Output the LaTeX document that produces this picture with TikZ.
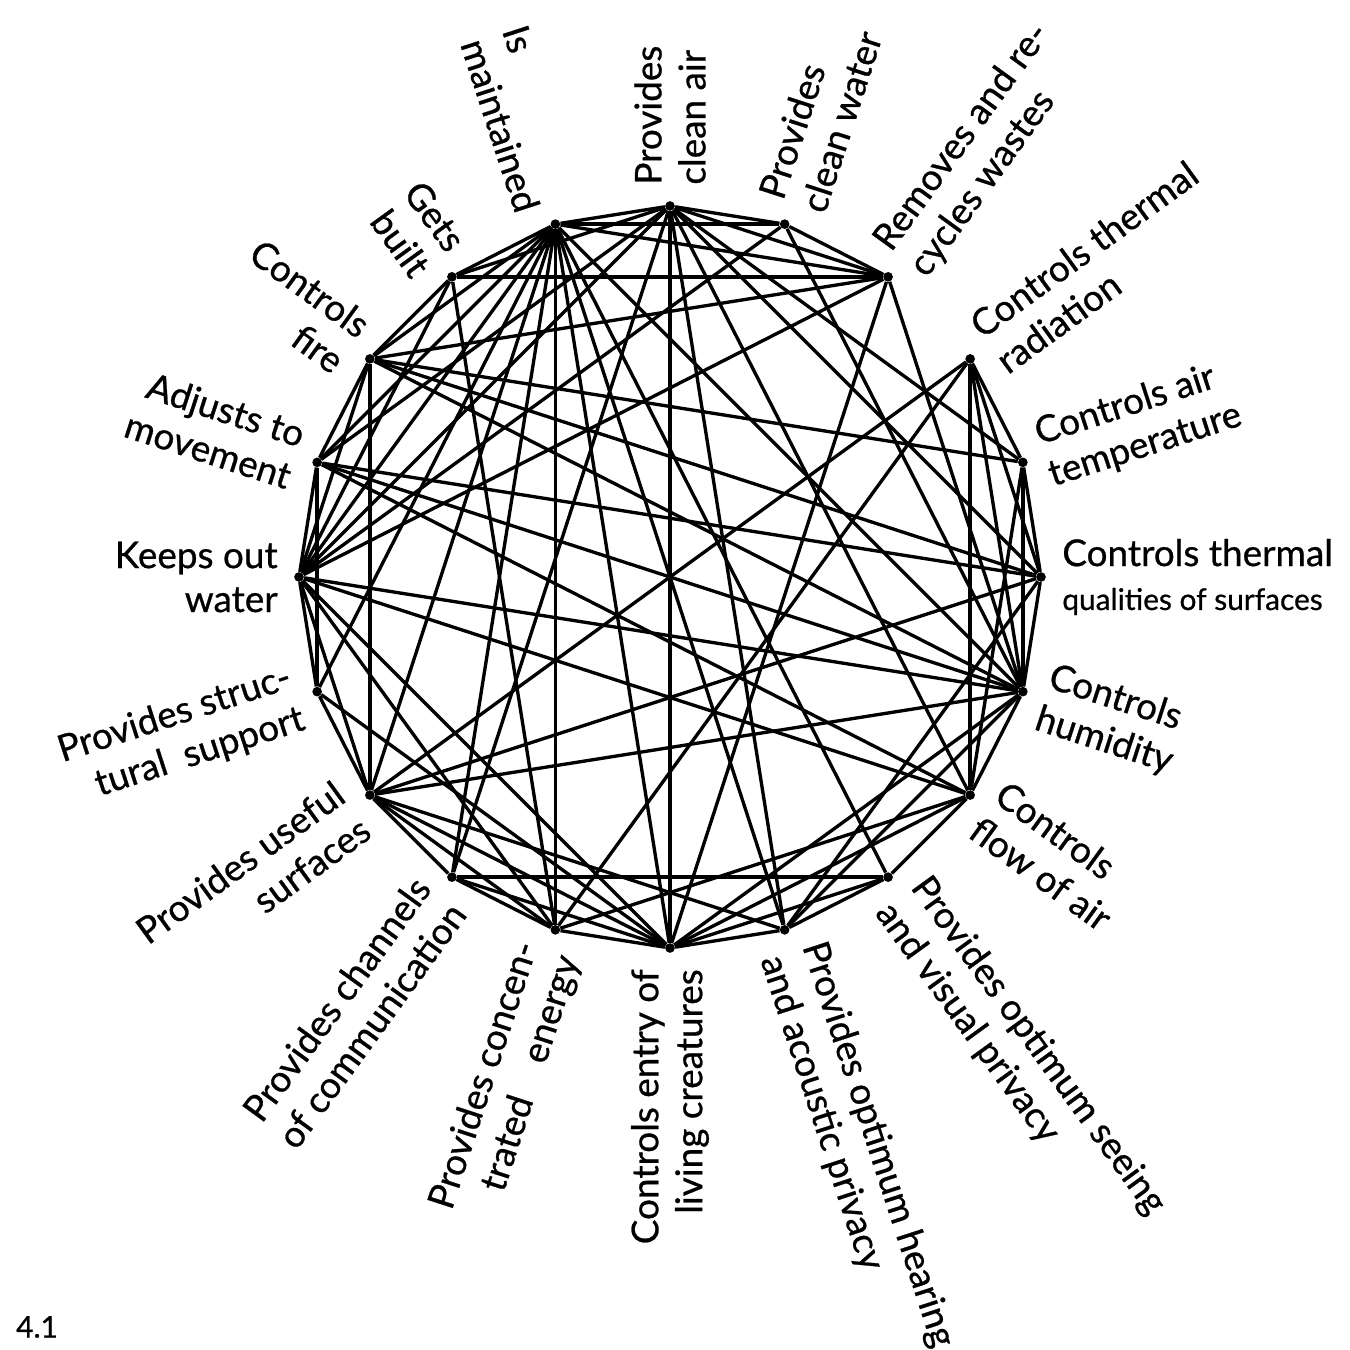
\documentclass[tikz,border=0pt]{standalone}
\usepackage{fontspec}
\setmainfont{Lato}[FakeBold=0.7]
\usetikzlibrary{positioning, calc}

\begin{document}
\begin{tikzpicture}[x=0.02cm, y=0.02cm,
  dot/.style={circle, fill=black, inner sep=0pt, minimum size=5.5pt},
  chord/.style={line width=1.9pt},
  lbl/.style={font=\fontsize{21}{25}\selectfont, inner sep=0pt}]
\useasboundingbox (0,0) rectangle (1350,1350);

\coordinate (c) at (670,773);
\foreach \i in {0,...,19}
  \node[dot] (n\i) at ($(c)+({90-18*\i}:371)$) {};

% rim
\foreach \a/\b in {0/1, 1/2, 3/4, 4/5, 5/6, 6/7, 7/8, 8/9, 9/10, 10/11, 11/12, 12/13,
  13/14, 14/15, 15/16, 16/17, 17/18, 18/19, 19/0}
  \draw[chord] (n\a) -- (n\b);
% chords
\foreach \a/\b in {19/17, 19/16, 19/15, 19/14, 19/13, 19/12, 19/11, 19/10, 19/9, 19/8,
  19/1, 19/2, 19/6,
  0/18, 0/16, 0/15, 0/12, 0/10, 0/9, 0/7, 0/2, 0/4, 0/5,
  2/18, 2/17, 2/10, 2/6, 2/15,
  3/5, 3/6, 3/7, 3/11, 3/13,
  17/4, 17/5, 17/15, 17/6, 16/5, 16/6, 16/7, 16/14,
  15/1, 15/18, 15/6, 15/7, 15/10, 15/13, 15/11,
  13/5, 13/6, 13/9, 13/11, 13/17,
  10/14, 10/13, 10/12, 10/8, 10/7, 10/6,
  11/7, 18/11, 7/4, 8/12, 9/6, 9/5, 4/6, 1/6}
  \draw[chord] (n\a) -- (n\b);

\node[lbl, rotate=90, anchor=west, align=left] (l0) at ($(c)+(90:392)$) {Provides\\clean air};
\node[lbl, rotate=72, anchor=west, align=left] (l1) at ($(c)+(72:392)$) {Provides\\clean water};
\node[lbl, rotate=54, anchor=west, align=left] (l2) at ($(c)+(54:392)$) {Removes and re-\\cycles wastes};
\node[lbl, rotate=36, anchor=west, align=left] (l3) at ($(c)+(36:392)$) {Controls thermal\\radiation};
\node[lbl, rotate=18, anchor=west, align=left] (l4) at ($(c)+(18:392)$) {Controls air\\temperature};
\node[lbl, rotate=0, anchor=west, align=left] (l5) at ($(c)+(0:392)$) {Controls thermal\\{\fontsize{17}{20}\selectfont qualities of surfaces}};
\node[lbl, rotate=-18, anchor=west, align=left] (l6) at ($(c)+(-18:392)$) {Controls\\humidity};
\node[lbl, rotate=-36, anchor=west, align=left] (l7) at ($(c)+(-36:392)$) {Controls\\flow of air};
\node[lbl, rotate=-54, anchor=west, align=left] (l8) at ($(c)+(-54:392)$) {Provides optimum seeing\\and visual privacy};
\node[lbl, rotate=-72, anchor=west, align=left] (l9) at ($(c)+(-72:392)$) {Provides optimum hearing\\and acoustic privacy};
\node[lbl, rotate=90, anchor=east, align=right] (l10) at ($(c)+(-90:392)$) {Controls entry of\\living creatures};
\node[lbl, rotate=72, anchor=east, align=right] (l11) at ($(c)+(-108:392)$) {Provides concen-\\trated\quad energy};
\node[lbl, rotate=54, anchor=east, align=right] (l12) at ($(c)+(-126:392)$) {Provides channels\\of communication};
\node[lbl, rotate=36, anchor=east, align=right] (l13) at ($(c)+(-144:392)$) {Provides useful\\surfaces};
\node[lbl, rotate=18, anchor=east, align=right] (l14) at ($(c)+(-162:392)$) {Provides struc-\\tural\enspace support};
\node[lbl, rotate=0, anchor=east, align=right] (l15) at ($(c)+(180:392)$) {Keeps out\\water};
\node[lbl, rotate=-18, anchor=east, align=right] (l16) at ($(c)+(162:392)$) {Adjusts to\\movement};
\node[lbl, rotate=-36, anchor=east, align=right] (l17) at ($(c)+(144:392)$) {Controls\\fire};
\node[lbl, rotate=-54, anchor=east, align=right] (l18) at ($(c)+(126:392)$) {Gets\\built};
\node[lbl, rotate=-72, anchor=east, align=left] (l19) at ($(c)+(108:392)$) {Is\\maintained};

\node[font=\fontsize{17}{19}\selectfont, anchor=south west] (fig) at (10,6) {4.1};
\end{tikzpicture}
\end{document}
